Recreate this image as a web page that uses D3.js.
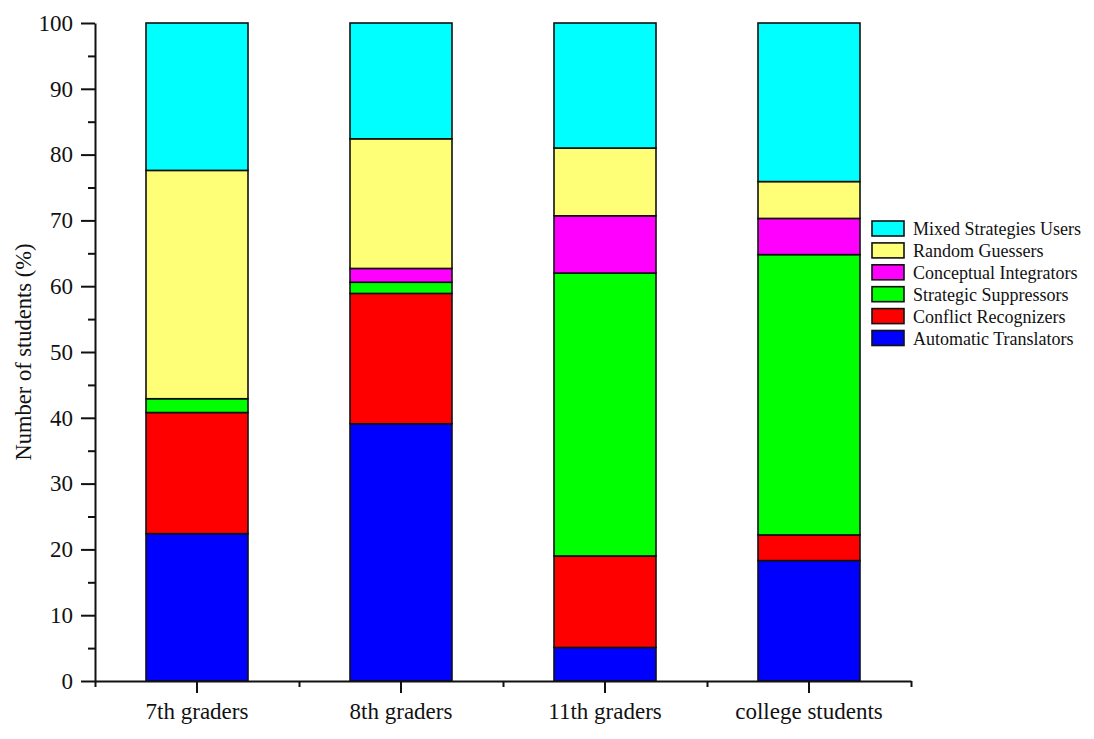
<!DOCTYPE html>
<html>
<head>
<meta charset="utf-8">
<script src="https://cdn.jsdelivr.net/npm/d3@7"></script>
<style>
	body { margin: 0; background: #fff; }
	svg text { font-family: "Liberation Serif", "DejaVu Serif", serif; fill: #111; }
</style>
</head>
<body>
<svg id="chart" width="1094" height="739"></svg>
<script>
// categories and series (percent)
var groups	= ["7th graders", "8th graders", "11th graders", "college students"];
var seriesNames	= ["Automatic Translators", "Conflict Recognizers", "Strategic Suppressors",
		   "Conceptual Integrators", "Random Guessers", "Mixed Strategies Users"];
var seriesColors	= ["#0000ff", "#ff0000", "#00ff00", "#ff00ff", "#ffff77", "#00ffff"];
var automatic	= [22.4, 39.1,  5.1, 18.3];
var conflict	= [18.4, 19.8, 13.9,  3.9];
var strategic	= [ 2.1,  1.7, 43.0, 42.6];
var conceptual	= [ 0.0,  2.1,  8.7,  5.5];
var guessers	= [34.7, 19.7, 10.3,  5.6];
var mixed	= [22.4, 17.6, 19.0, 24.1];
var yTicks	= [0, 10, 20, 30, 40, 50, 60, 70, 80, 90, 100];

var	svg	= d3.select("#chart"),
	margin	= {left: 95, top: 23, right: 183, bottom: 58},
	width	= 1094 - margin.left - margin.right,
	height	= 739 - margin.top - margin.bottom,
	g	= svg.append("g").attr("transform", "translate(" + margin.left + "," + margin.top + ")");

var	columns	= [automatic, conflict, strategic, conceptual, guessers, mixed],
	rows	= groups.map(function(name, i) {
			var r = {group: name};
			seriesNames.forEach(function(s, k) { r[s] = columns[k][i]; });
			return r;
		}),
	stacked	= d3.stack().keys(seriesNames)(rows);

var	x	= d3.scaleBand().domain(groups).range([0, width]).paddingInner(0.5).paddingOuter(0.25),
	y	= d3.scaleLinear().domain([0, 100]).range([height, 0]),
	color	= d3.scaleOrdinal().domain(seriesNames).range(seriesColors);

// bars
g.selectAll(".layer").data(stacked).enter().append("g").attr("class", "layer")
	.attr("fill", function(d) { return color(d.key); })
	.selectAll("rect").data(function(d) { return d; }).enter().append("rect")
	.filter(function(d) { return d[1] - d[0] > 0; })
	.attr("x", function(d) { return x(d.data.group); })
	.attr("width", x.bandwidth())
	.attr("y", function(d) { return y(d[1]); })
	.attr("height", function(d) { return y(d[0]) - y(d[1]); })
	.attr("stroke", "#111").attr("stroke-width", 1.6);

// y axis, major + minor ticks
var yAxis = g.append("g").call(d3.axisLeft(y).tickValues(yTicks).tickSize(14).tickPadding(8).tickSizeOuter(0));
g.append("g").call(d3.axisLeft(y).tickValues(d3.range(5, 100, 10)).tickSize(7).tickFormat("").tickSizeOuter(0))
	.select(".domain").remove();

// x axis: major ticks at bar centers, minor at boundaries
var xAxis = g.append("g").attr("transform", "translate(0," + height + ")")
	.call(d3.axisBottom(x).tickSize(12).tickPadding(10).tickSizeOuter(0));
g.append("g").attr("transform", "translate(0," + height + ")")
	.call(d3.axisBottom(d3.scaleLinear().domain([0, groups.length]).range([0, width]))
		.tickValues(d3.range(0, groups.length + 1)).tickSize(6).tickFormat("").tickSizeOuter(0))
	.select(".domain").remove();

svg.selectAll(".domain, .tick line").attr("stroke", "#111").attr("stroke-width", 2);
yAxis.selectAll("text").style("font-size", "23px");
xAxis.selectAll("text").style("font-size", "23px");

g.append("text").attr("transform", "rotate(-90)")
	.attr("x", -height / 2).attr("y", -64)
	.attr("text-anchor", "middle").style("font-size", "22.5px")
	.text("Number of students (%)");

// legend, top item = last series
var	legend	= svg.append("g").attr("transform", "translate(872,221)"),
	items	= legend.selectAll(".item").data(seriesNames.slice().reverse()).enter().append("g")
			.attr("transform", function(d, i) { return "translate(0," + (i * 21.9) + ")"; });
items.append("rect").attr("width", 32).attr("height", 15)
	.attr("fill", function(d) { return color(d); })
	.attr("stroke", "#111").attr("stroke-width", 1.6);
items.append("text").attr("x", 41).attr("y", 14).style("font-size", "18px")
	.text(function(d) { return d; });
</script>
</body>
</html>
